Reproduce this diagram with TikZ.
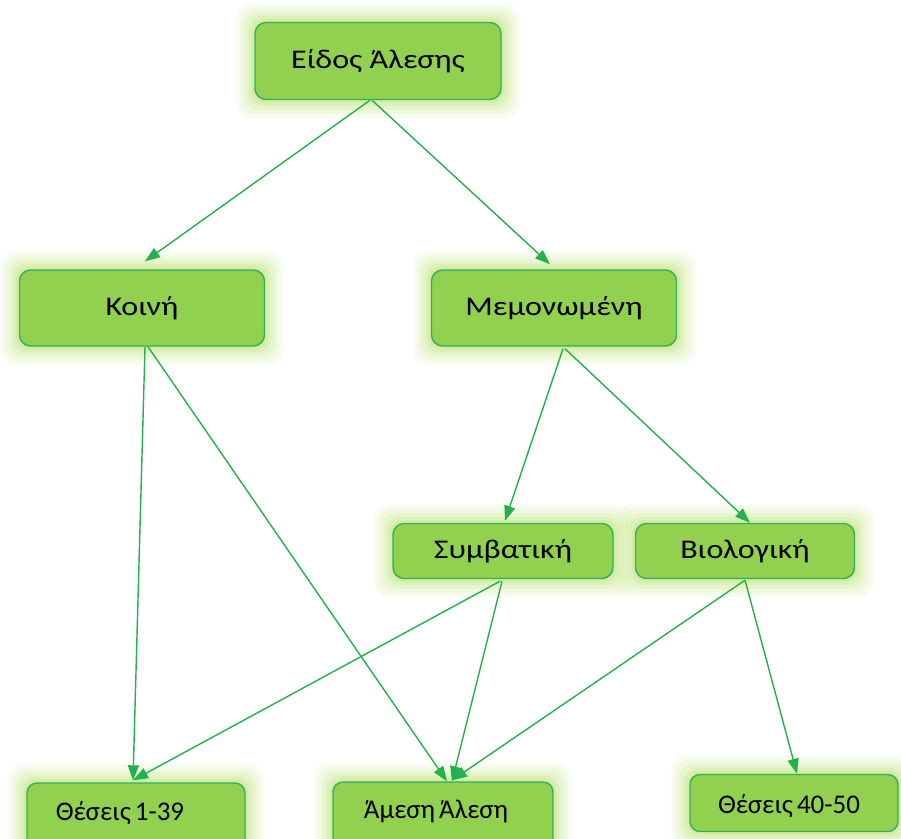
\documentclass[tikz,border=0pt]{standalone}
\usepackage{fontspec}
\setmainfont{Carlito}
\usetikzlibrary{arrows.meta,backgrounds,calc}
\definecolor{boxfill}{HTML}{92D050}
\definecolor{boxline}{HTML}{2EB257}
\definecolor{arrowc}{HTML}{22B14C}
\definecolor{glowc}{HTML}{C4E584}
\newcommand{\wtxt}[1]{\scalebox{1.19}[1]{#1}}
\newcommand{\ltxt}[1]{\scalebox{1.0}[1]{#1}}
\tikzset{
  box/.style={draw=boxline, fill=boxfill, line width=1.4pt, rounded corners=11pt,
    inner sep=0pt, font=\fontsize{27}{32}\selectfont},
  lowbox/.style={draw=boxline, fill=boxfill, line width=1.4pt, rounded corners=10pt, inner sep=0pt},
  lowtext/.style={inner sep=0pt, font=\fontsize{27}{32}\selectfont},
  conn/.style={draw=arrowc, line width=1.4pt, -{Triangle[length=15pt,width=11pt]}},
}
\newcommand{\glowbox}[1]{%
  \foreach \r/\o in {18/0.12,14/0.15,10/0.2,6/0.28,3/0.35}{%
    \fill[glowc, opacity=\o, rounded corners=14pt]
      ($(#1.south west)+(-\r pt,-\r pt)$) rectangle ($(#1.north east)+(\r pt,\r pt)$);
  }%
}
\begin{document}
\begin{tikzpicture}[x=1pt,y=1pt]
\useasboundingbox (0,0) rectangle (901,-838);
% boxes
\node[box, minimum width=246pt, minimum height=77pt] (top) at (378,-61) {\wtxt{Είδος Άλεσης}};
\node[box, minimum width=245pt, minimum height=76pt] (koini) at (142,-308) {\wtxt{Κοινή}};
\node[box, minimum width=245pt, minimum height=76pt] (mem) at (554,-308) {\wtxt{Μεμονωμένη}};
\node[box, minimum width=220pt, minimum height=55pt] (symb) at (503,-551) {\wtxt{Συμβατική}};
\node[box, minimum width=219pt, minimum height=55pt] (bio) at (745,-551) {\wtxt{Βιολογική}};
\node[lowbox, minimum width=218pt, minimum height=70pt] (th1) at (136,-818) {};
\node[lowbox, minimum width=220pt, minimum height=70pt] (amesi) at (443,-817) {};
\node[lowbox, minimum width=208pt, minimum height=57pt] (th40) at (794,-803) {};
\node[lowtext] (th1t) at (120,-813) {\ltxt{Θέσεις\kern4pt 1-39}};
\node[lowtext] (amesit) at (436,-811) {\ltxt{Άμεση\kern4pt Άλεση}};
\node[lowtext] (th40t) at (789,-806) {\ltxt{Θέσεις\kern4pt 40-50}};
% glow
\begin{scope}[on background layer]
  \glowbox{top}\glowbox{koini}\glowbox{mem}\glowbox{symb}\glowbox{bio}
  \glowbox{th1}\glowbox{amesi}\glowbox{th40}
\end{scope}
% connectors
\draw[conn] ([xshift=-8pt]top.south) -- ([xshift=3pt,yshift=8pt]koini.north);
\draw[conn] ([xshift=-6pt]top.south) -- ([xshift=-4pt,yshift=5pt]mem.north);
\draw[conn] ([xshift=3pt]koini.south) -- ([xshift=-3pt,yshift=2pt]th1.north);
\draw[conn] ([xshift=6pt]koini.south) -- ([xshift=4pt]amesi.north);
\draw[conn] ([xshift=9pt,yshift=-2pt]mem.south) -- ([xshift=2pt,yshift=2pt]symb.north);
\draw[conn] ([xshift=11pt,yshift=-2pt]mem.south) -- ([xshift=5pt]bio.north);
\draw[conn] ([xshift=-3pt,yshift=-2pt]symb.south) -- ([xshift=-3pt,yshift=2pt]th1.north);
\draw[conn] ([xshift=-1pt,yshift=-2pt]symb.south) -- ([xshift=9pt]amesi.north);
\draw[conn] ([yshift=-1pt]bio.south) -- ([xshift=9pt,yshift=1pt]amesi.north);
\draw[conn] ([yshift=-1pt]bio.south) -- ([xshift=3pt]th40.north);
\end{tikzpicture}
\end{document}
